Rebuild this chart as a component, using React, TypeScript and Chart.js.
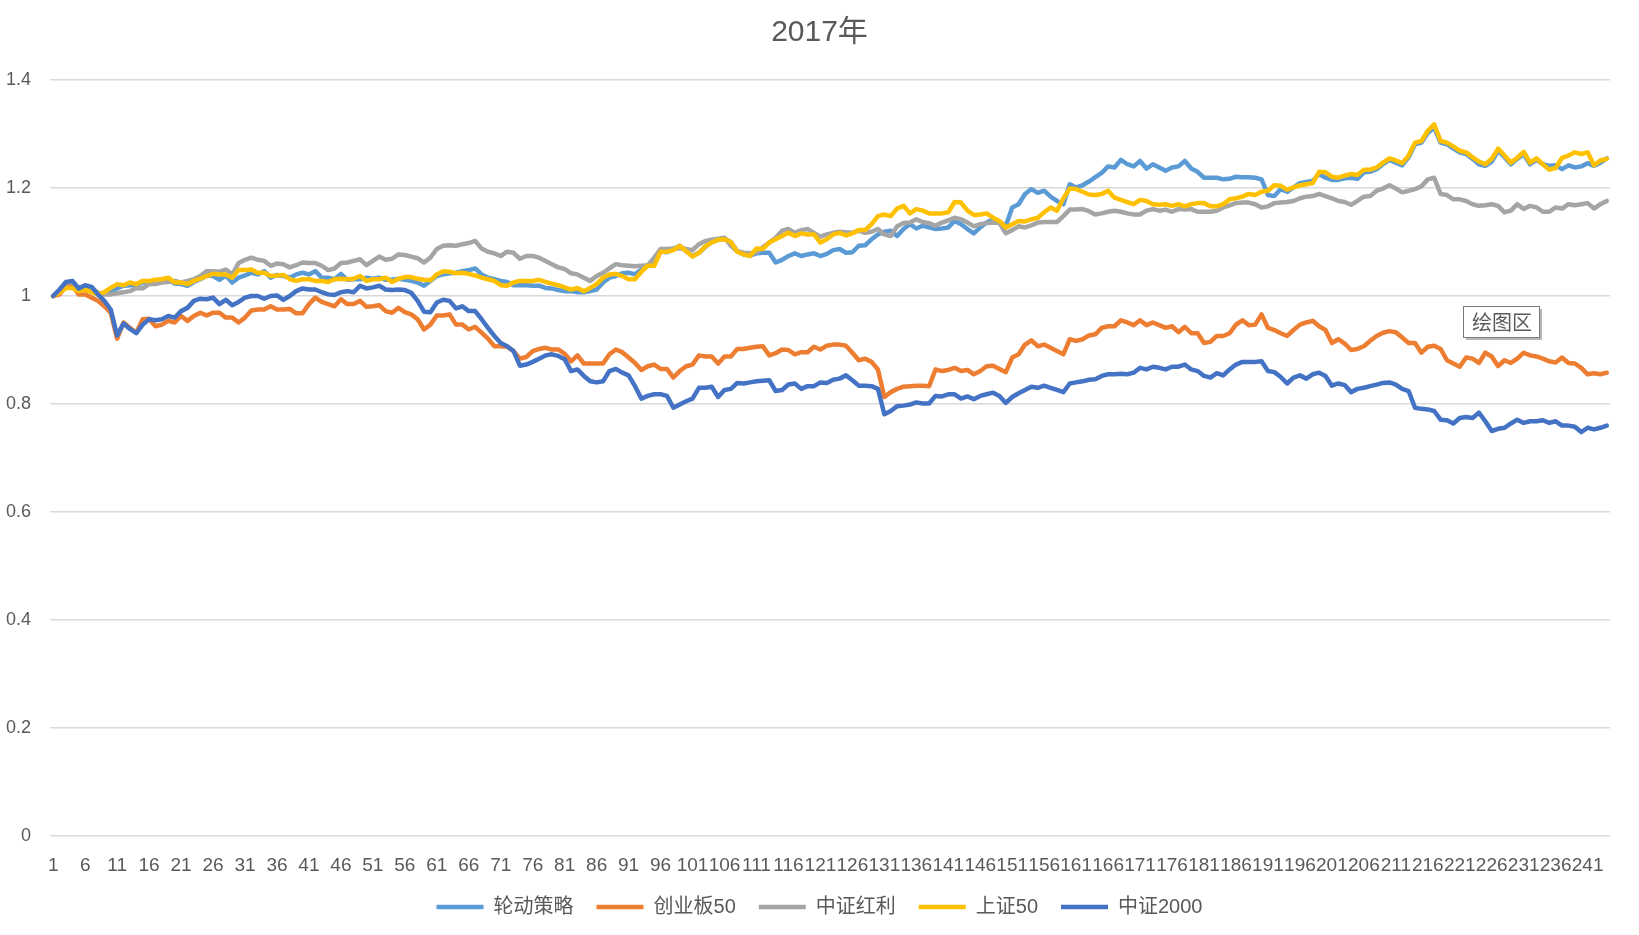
import React, { useEffect, useRef } from 'react';
import { Chart, registerables } from 'chart.js';

Chart.register(...registerables);

const TITLE = '2017年';
const DAYS = 244;
const categories: string[] = Array.from({ length: DAYS }, (_, i) => String(i + 1));
const TICK_EVERY = 5;
const Y_MIN = 0;
const Y_MAX = 1.4;
const Y_STEP = 0.2;

const seriesNames = ['轮动策略', '创业板50', '中证红利', '上证50', '中证2000'];
const seriesColors = ['#5B9BD5', '#ED7D31', '#A5A5A5', '#FFC000', '#4472C4'];

const rotation = [
  1.000, 1.007, 1.023, 1.025, 1.012, 1.015, 1.012, 1.003, 1.005, 1.009,
  1.014, 1.019, 1.020, 1.020, 1.025, 1.026, 1.028, 1.030, 1.031, 1.023,
  1.022, 1.019, 1.026, 1.031, 1.038, 1.037, 1.030, 1.038, 1.025, 1.034,
  1.038, 1.043, 1.040, 1.046, 1.034, 1.039, 1.037, 1.034, 1.040, 1.043,
  1.040, 1.046, 1.034, 1.034, 1.031, 1.041, 1.030, 1.031, 1.031, 1.034,
  1.032, 1.034, 1.030, 1.030, 1.032, 1.030, 1.028, 1.025, 1.019, 1.028,
  1.037, 1.040, 1.042, 1.043, 1.046, 1.048, 1.051, 1.040, 1.034, 1.031,
  1.028, 1.026, 1.020, 1.020, 1.020, 1.019, 1.019, 1.015, 1.014, 1.011,
  1.009, 1.009, 1.007, 1.007, 1.009, 1.012, 1.025, 1.034, 1.037, 1.042,
  1.043, 1.040, 1.049, 1.056, 1.059, 1.083, 1.081, 1.087, 1.093, 1.083,
  1.074, 1.080, 1.091, 1.100, 1.104, 1.106, 1.100, 1.083, 1.077, 1.075,
  1.079, 1.080, 1.080, 1.062, 1.067, 1.074, 1.079, 1.074, 1.077, 1.079,
  1.074, 1.078, 1.085, 1.087, 1.080, 1.081, 1.093, 1.094, 1.105, 1.114,
  1.119, 1.121, 1.111, 1.124, 1.133, 1.125, 1.130, 1.127, 1.124, 1.125,
  1.127, 1.139, 1.133, 1.124, 1.116, 1.127, 1.136, 1.142, 1.137, 1.130,
  1.164, 1.170, 1.189, 1.198, 1.191, 1.195, 1.184, 1.176, 1.170, 1.207,
  1.201, 1.205, 1.212, 1.220, 1.228, 1.240, 1.238, 1.252, 1.244, 1.240,
  1.250, 1.236, 1.244, 1.238, 1.232, 1.238, 1.240, 1.250, 1.236, 1.230,
  1.219, 1.219, 1.219, 1.216, 1.217, 1.221, 1.220, 1.220, 1.219, 1.216,
  1.187, 1.185, 1.198, 1.193, 1.201, 1.209, 1.211, 1.213, 1.226, 1.219,
  1.215, 1.215, 1.218, 1.219, 1.217, 1.229, 1.230, 1.235, 1.244, 1.252,
  1.247, 1.242, 1.257, 1.281, 1.284, 1.302, 1.312, 1.284, 1.281, 1.273,
  1.266, 1.263, 1.254, 1.244, 1.241, 1.249, 1.269, 1.257, 1.244, 1.254,
  1.263, 1.244, 1.252, 1.244, 1.241, 1.242, 1.235, 1.242, 1.238, 1.240,
  1.246, 1.241, 1.247, 1.255,
];

const chinext50 = [
  1.000, 1.003, 1.019, 1.019, 1.003, 1.003, 0.997, 0.991, 0.981, 0.969,
  0.921, 0.951, 0.941, 0.932, 0.957, 0.958, 0.944, 0.947, 0.954, 0.951,
  0.963, 0.954, 0.963, 0.969, 0.964, 0.969, 0.969, 0.960, 0.960, 0.951,
  0.960, 0.973, 0.975, 0.975, 0.981, 0.975, 0.975, 0.976, 0.968, 0.968,
  0.985, 0.997, 0.989, 0.985, 0.981, 0.994, 0.985, 0.985, 0.991, 0.980,
  0.981, 0.983, 0.972, 0.969, 0.978, 0.970, 0.966, 0.957, 0.938, 0.947,
  0.964, 0.964, 0.966, 0.947, 0.947, 0.938, 0.943, 0.932, 0.921, 0.907,
  0.907, 0.906, 0.898, 0.884, 0.887, 0.898, 0.902, 0.904, 0.901, 0.901,
  0.893, 0.879, 0.890, 0.875, 0.875, 0.875, 0.875, 0.892, 0.901, 0.896,
  0.886, 0.876, 0.863, 0.870, 0.873, 0.865, 0.865, 0.849, 0.861, 0.870,
  0.873, 0.890, 0.888, 0.888, 0.875, 0.888, 0.888, 0.902, 0.902, 0.904,
  0.906, 0.907, 0.890, 0.894, 0.901, 0.900, 0.892, 0.896, 0.896, 0.906,
  0.901, 0.908, 0.910, 0.910, 0.908, 0.895, 0.881, 0.884, 0.878, 0.864,
  0.813, 0.822, 0.828, 0.832, 0.833, 0.834, 0.834, 0.833, 0.864, 0.861,
  0.863, 0.867, 0.861, 0.863, 0.855, 0.861, 0.870, 0.871, 0.865, 0.859,
  0.886, 0.892, 0.910, 0.918, 0.907, 0.910, 0.904, 0.898, 0.892, 0.920,
  0.917, 0.920, 0.927, 0.929, 0.941, 0.944, 0.944, 0.955, 0.951, 0.946,
  0.955, 0.946, 0.951, 0.946, 0.941, 0.944, 0.933, 0.943, 0.931, 0.931,
  0.913, 0.915, 0.926, 0.926, 0.931, 0.947, 0.955, 0.946, 0.947, 0.966,
  0.941, 0.937, 0.931, 0.926, 0.937, 0.947, 0.951, 0.954, 0.944, 0.937,
  0.913, 0.920, 0.912, 0.900, 0.902, 0.907, 0.917, 0.926, 0.932, 0.935,
  0.933, 0.923, 0.913, 0.913, 0.895, 0.906, 0.908, 0.902, 0.881, 0.875,
  0.869, 0.886, 0.884, 0.876, 0.895, 0.888, 0.870, 0.881, 0.876, 0.884,
  0.895, 0.890, 0.888, 0.884, 0.879, 0.877, 0.886, 0.876, 0.875, 0.867,
  0.855, 0.857, 0.855, 0.858,
];

const dividend = [
  1.000, 1.012, 1.025, 1.025, 1.015, 1.019, 1.015, 1.006, 1.003, 1.003,
  1.005, 1.007, 1.009, 1.015, 1.014, 1.022, 1.022, 1.025, 1.026, 1.028,
  1.025, 1.028, 1.031, 1.037, 1.046, 1.046, 1.045, 1.049, 1.040, 1.061,
  1.067, 1.071, 1.067, 1.065, 1.056, 1.060, 1.059, 1.053, 1.057, 1.062,
  1.061, 1.061, 1.056, 1.048, 1.051, 1.061, 1.062, 1.065, 1.068, 1.057,
  1.065, 1.073, 1.067, 1.069, 1.077, 1.076, 1.073, 1.070, 1.062, 1.071,
  1.087, 1.093, 1.094, 1.093, 1.096, 1.098, 1.102, 1.088, 1.082, 1.079,
  1.074, 1.082, 1.080, 1.069, 1.074, 1.074, 1.071, 1.065, 1.059, 1.053,
  1.050, 1.042, 1.040, 1.034, 1.028, 1.037, 1.043, 1.051, 1.059, 1.057,
  1.056, 1.055, 1.056, 1.057, 1.071, 1.087, 1.087, 1.088, 1.088, 1.087,
  1.085, 1.096, 1.102, 1.104, 1.106, 1.108, 1.093, 1.083, 1.080, 1.079,
  1.081, 1.090, 1.099, 1.108, 1.121, 1.124, 1.117, 1.122, 1.124, 1.117,
  1.110, 1.114, 1.117, 1.119, 1.118, 1.117, 1.121, 1.117, 1.119, 1.124,
  1.114, 1.111, 1.129, 1.135, 1.136, 1.142, 1.137, 1.135, 1.130, 1.136,
  1.140, 1.145, 1.142, 1.136, 1.129, 1.133, 1.135, 1.136, 1.135, 1.116,
  1.122, 1.129, 1.127, 1.131, 1.136, 1.137, 1.137, 1.137, 1.148, 1.160,
  1.160, 1.161, 1.157, 1.151, 1.153, 1.156, 1.158, 1.156, 1.153, 1.151,
  1.151, 1.158, 1.161, 1.158, 1.160, 1.156, 1.161, 1.160, 1.161, 1.156,
  1.156, 1.156, 1.158, 1.164, 1.168, 1.172, 1.173, 1.173, 1.170, 1.164,
  1.166, 1.172, 1.173, 1.174, 1.176, 1.181, 1.184, 1.185, 1.189, 1.185,
  1.181, 1.176, 1.174, 1.169, 1.176, 1.184, 1.185, 1.195, 1.199, 1.205,
  1.199, 1.192, 1.195, 1.198, 1.203, 1.216, 1.219, 1.189, 1.187, 1.179,
  1.179, 1.176, 1.170, 1.167, 1.168, 1.170, 1.167, 1.155, 1.158, 1.170,
  1.161, 1.167, 1.164, 1.156, 1.156, 1.164, 1.162, 1.170, 1.168, 1.170,
  1.172, 1.162, 1.170, 1.176,
];

const sse50 = [
  1.000, 1.006, 1.015, 1.015, 1.009, 1.012, 1.007, 1.003, 1.007, 1.015,
  1.022, 1.020, 1.025, 1.022, 1.028, 1.028, 1.030, 1.031, 1.034, 1.025,
  1.025, 1.022, 1.028, 1.032, 1.037, 1.041, 1.040, 1.040, 1.034, 1.048,
  1.048, 1.049, 1.043, 1.043, 1.037, 1.038, 1.039, 1.031, 1.028, 1.031,
  1.031, 1.028, 1.028, 1.026, 1.031, 1.032, 1.031, 1.032, 1.037, 1.028,
  1.031, 1.031, 1.034, 1.026, 1.032, 1.035, 1.035, 1.032, 1.030, 1.029,
  1.040, 1.046, 1.045, 1.042, 1.043, 1.041, 1.038, 1.034, 1.031, 1.028,
  1.020, 1.019, 1.025, 1.028, 1.028, 1.028, 1.030, 1.026, 1.023, 1.020,
  1.016, 1.012, 1.015, 1.009, 1.015, 1.022, 1.034, 1.040, 1.041, 1.037,
  1.031, 1.031, 1.045, 1.056, 1.056, 1.082, 1.082, 1.085, 1.093, 1.083,
  1.073, 1.080, 1.092, 1.099, 1.104, 1.105, 1.100, 1.082, 1.077, 1.074,
  1.088, 1.087, 1.099, 1.105, 1.111, 1.117, 1.111, 1.116, 1.114, 1.114,
  1.099, 1.105, 1.114, 1.117, 1.112, 1.116, 1.122, 1.122, 1.133, 1.148,
  1.151, 1.148, 1.162, 1.167, 1.153, 1.161, 1.158, 1.153, 1.153, 1.153,
  1.155, 1.174, 1.173, 1.158, 1.150, 1.151, 1.153, 1.145, 1.139, 1.127,
  1.133, 1.139, 1.138, 1.142, 1.145, 1.155, 1.164, 1.158, 1.181, 1.199,
  1.198, 1.193, 1.188, 1.187, 1.189, 1.195, 1.182, 1.178, 1.174, 1.170,
  1.178, 1.176, 1.170, 1.169, 1.170, 1.167, 1.170, 1.166, 1.170, 1.172,
  1.172, 1.166, 1.166, 1.170, 1.179, 1.181, 1.184, 1.189, 1.187, 1.193,
  1.195, 1.205, 1.204, 1.197, 1.201, 1.205, 1.207, 1.209, 1.230, 1.229,
  1.221, 1.219, 1.223, 1.226, 1.224, 1.234, 1.234, 1.238, 1.247, 1.255,
  1.251, 1.246, 1.260, 1.284, 1.287, 1.306, 1.318, 1.287, 1.284, 1.277,
  1.269, 1.266, 1.257, 1.249, 1.244, 1.254, 1.273, 1.260, 1.247, 1.256,
  1.267, 1.247, 1.255, 1.244, 1.234, 1.237, 1.256, 1.260, 1.266, 1.263,
  1.266, 1.242, 1.251, 1.254,
];

const csi2000 = [
  1.000, 1.012, 1.026, 1.028, 1.014, 1.020, 1.017, 1.003, 0.991, 0.975,
  0.927, 0.949, 0.939, 0.931, 0.947, 0.957, 0.955, 0.957, 0.963, 0.960,
  0.972, 0.978, 0.991, 0.995, 0.994, 0.997, 0.985, 0.993, 0.983, 0.989,
  0.997, 1.000, 1.000, 0.995, 1.000, 1.001, 0.993, 1.000, 1.009, 1.014,
  1.012, 1.012, 1.007, 1.003, 1.002, 1.007, 1.009, 1.007, 1.019, 1.014,
  1.016, 1.019, 1.012, 1.011, 1.012, 1.011, 1.006, 0.991, 0.971, 0.970,
  0.988, 0.993, 0.991, 0.977, 0.981, 0.972, 0.972, 0.957, 0.941, 0.926,
  0.913, 0.907, 0.898, 0.871, 0.873, 0.878, 0.884, 0.890, 0.892, 0.889,
  0.883, 0.861, 0.864, 0.852, 0.842, 0.840, 0.842, 0.861, 0.865, 0.858,
  0.853, 0.833, 0.810, 0.815, 0.818, 0.818, 0.815, 0.793, 0.799, 0.805,
  0.810, 0.830, 0.830, 0.832, 0.813, 0.826, 0.828, 0.839, 0.838, 0.840,
  0.842, 0.843, 0.844, 0.824, 0.826, 0.836, 0.838, 0.828, 0.833, 0.833,
  0.840, 0.839, 0.845, 0.847, 0.853, 0.844, 0.834, 0.834, 0.833, 0.828,
  0.781, 0.787, 0.796, 0.797, 0.799, 0.803, 0.801, 0.801, 0.815, 0.814,
  0.818, 0.818, 0.810, 0.814, 0.809, 0.815, 0.818, 0.821, 0.815, 0.802,
  0.813, 0.820, 0.826, 0.832, 0.830, 0.834, 0.830, 0.826, 0.822, 0.838,
  0.840, 0.842, 0.845, 0.846, 0.852, 0.855, 0.855, 0.856, 0.855, 0.858,
  0.867, 0.864, 0.869, 0.867, 0.864, 0.869, 0.869, 0.873, 0.864, 0.861,
  0.852, 0.849, 0.857, 0.853, 0.864, 0.873, 0.878, 0.878, 0.878, 0.879,
  0.861, 0.859, 0.850, 0.838, 0.849, 0.853, 0.847, 0.855, 0.858, 0.852,
  0.834, 0.838, 0.835, 0.822, 0.828, 0.830, 0.833, 0.836, 0.839, 0.840,
  0.836, 0.828, 0.824, 0.793, 0.791, 0.790, 0.787, 0.771, 0.770, 0.764,
  0.774, 0.776, 0.774, 0.784, 0.768, 0.750, 0.754, 0.756, 0.764, 0.771,
  0.765, 0.768, 0.768, 0.770, 0.765, 0.768, 0.760, 0.760, 0.758, 0.748,
  0.756, 0.753, 0.756, 0.760,
];

const seriesValues = [rotation, chinext50, dividend, sse50, csi2000];

const FONT = '"Liberation Sans", "Noto Sans CJK SC", sans-serif';
const TEXT_COLOR = '#595959';
const GRID_COLOR = '#D9D9D9';
const TIP_TEXT = '绘图区';

const plotAreaTip = {
  id: 'plotAreaTip',
  afterDraw(chart: any) {
    const ctx = chart.ctx;
    const x = 1463;
    const y = 306;
    const w = 76;
    const h = 31;
    ctx.save();
    ctx.fillStyle = 'rgba(0,0,0,0.28)';
    ctx.fillRect(x + 3, y + 3, w, h);
    ctx.fillStyle = '#ffffff';
    ctx.fillRect(x, y, w, h);
    ctx.strokeStyle = '#7a7a7a';
    ctx.lineWidth = 1;
    ctx.strokeRect(x + 0.5, y + 0.5, w, h);
    ctx.fillStyle = TEXT_COLOR;
    ctx.font = '20px "Noto Sans CJK SC", sans-serif';
    ctx.textAlign = 'center';
    ctx.textBaseline = 'middle';
    ctx.fillText(TIP_TEXT, x + w / 2 + 1, y + h / 2 + 1);
    ctx.restore();
  },
};

export default function App() {
  const canvasRef = useRef<HTMLCanvasElement | null>(null);

  useEffect(() => {
    if (!canvasRef.current) return;
    const datasets = seriesNames.map((name, i) => ({
      label: name,
      data: seriesValues[i],
      yAxisID: 'y',
      borderColor: seriesColors[i],
      backgroundColor: seriesColors[i],
      borderWidth: 4.5,
      pointRadius: 0,
      pointHoverRadius: 0,
      tension: 0,
      fill: false,
      borderCapStyle: 'round' as const,
      borderJoinStyle: 'round' as const,
      order: seriesNames.length - i,
    }));

    const chart = new Chart(canvasRef.current, {
      type: 'line',
      data: { labels: categories, datasets },
      plugins: [plotAreaTip],
      options: {
        responsive: false,
        animation: false,
        devicePixelRatio: 1,
        layout: { padding: { left: 0, right: 0, top: 0, bottom: 8 } },
        plugins: {
          title: {
            display: true,
            text: TITLE,
            color: TEXT_COLOR,
            font: { family: FONT, size: 30, weight: 'normal' },
            padding: { top: 15, bottom: 29 },
          },
          legend: {
            position: 'bottom',
            labels: {
              usePointStyle: true,
              pointStyle: 'line',
              pointStyleWidth: 47,
              boxHeight: 20,
              padding: 23,
              color: TEXT_COLOR,
              font: { family: FONT, size: 20 },
              sort: (a: any, b: any) => a.datasetIndex - b.datasetIndex,
            },
          },
          tooltip: { enabled: false },
        },
        scales: {
          x: {
            type: 'category',
            offset: true,
            grid: { display: false, drawTicks: false },
            border: { display: false },
            ticks: {
              autoSkip: false,
              maxRotation: 0,
              minRotation: 0,
              padding: 18,
              color: TEXT_COLOR,
              font: { family: FONT, size: 19 },
              callback: (_v: any, idx: number) => (idx % TICK_EVERY === 0 ? categories[idx] : ''),
            },
            afterFit: (scale: any) => {
              scale.height = 38;
            },
          },
          y: {
            min: Y_MIN,
            max: Y_MAX,
            grid: { color: GRID_COLOR, lineWidth: 1.5, drawTicks: false },
            border: { display: false },
            ticks: {
              stepSize: Y_STEP,
              padding: 19,
              color: TEXT_COLOR,
              font: { family: FONT, size: 18 },
              callback: (v: any) => String(Number(Number(v).toFixed(1))),
            },
            afterFit: (scale: any) => {
              scale.width = 50;
            },
          },
          rightGap: {
            type: 'linear',
            position: 'right',
            display: true,
            grid: { display: false, drawTicks: false },
            border: { display: false },
            ticks: { display: false },
            afterFit: (scale: any) => {
              scale.width = 29;
            },
          },
        },
      },
    });
    return () => chart.destroy();
  }, []);

  return (
    <div style={{ position: 'fixed', left: 0, top: 0, width: 1639, height: 935, background: '#ffffff' }}>
      <canvas ref={canvasRef} width={1639} height={935} style={{ display: 'block' }} />
    </div>
  );
}
